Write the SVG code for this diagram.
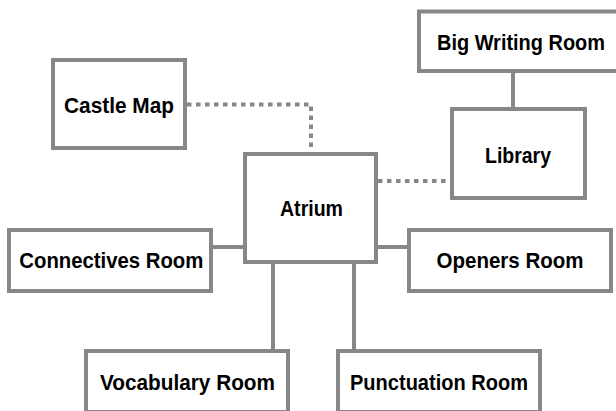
<svg xmlns="http://www.w3.org/2000/svg" width="616" height="411" viewBox="0 0 616 411">
<style>
.box{fill:#fff;stroke:#878787;stroke-width:4}
.lbl{font-family:"Liberation Sans",Arial,sans-serif;font-weight:bold;font-size:22px;fill:#000;text-anchor:middle}
.link{fill:none;stroke:#878787;stroke-width:4}
.dot{stroke-dasharray:4.5 4.5}
</style>
<rect width="616" height="411" fill="#fff"/>
<g id="connectors">
<path class="link dot" d="M187 104.5H311V151"/>
<path class="link dot" d="M378 181H450"/>
<path class="link" d="M513 73V107"/>
<path class="link" d="M213 247H243"/>
<path class="link" d="M378 247H407"/>
<path class="link" d="M273 264V349"/>
<path class="link" d="M354 264V349"/>
</g>
<g id="castle-map"><rect class="box" x="53" y="60" width="132" height="88"/><text class="lbl" x="119" y="112.5" textLength="110" lengthAdjust="spacingAndGlyphs">Castle Map</text></g>
<g id="atrium"><rect class="box" x="245" y="154" width="131" height="108"/><text class="lbl" x="311.5" y="215.5" textLength="63" lengthAdjust="spacingAndGlyphs">Atrium</text></g>
<g id="big-writing-room"><rect class="box" x="419" y="11.5" width="203" height="59.5"/><text class="lbl" x="521" y="50" textLength="168" lengthAdjust="spacingAndGlyphs">Big Writing Room</text></g>
<g id="library"><rect class="box" x="452" y="109" width="133" height="89"/><text class="lbl" x="518" y="163.3" textLength="66" lengthAdjust="spacingAndGlyphs">Library</text></g>
<g id="connectives-room"><rect class="box" x="9" y="230" width="202" height="61"/><text class="lbl" x="111.3" y="268.3" textLength="184" lengthAdjust="spacingAndGlyphs">Connectives Room</text></g>
<g id="openers-room"><rect class="box" x="409" y="230" width="202" height="61"/><text class="lbl" x="510" y="268.3" textLength="147" lengthAdjust="spacingAndGlyphs">Openers Room</text></g>
<g id="vocabulary-room"><rect class="box" x="86" y="351" width="202" height="61"/><text class="lbl" x="187.5" y="390" textLength="175" lengthAdjust="spacingAndGlyphs">Vocabulary Room</text></g>
<g id="punctuation-room"><rect class="box" x="338" y="351" width="202" height="61"/><text class="lbl" x="439" y="390" textLength="178" lengthAdjust="spacingAndGlyphs">Punctuation Room</text></g>
</svg>
